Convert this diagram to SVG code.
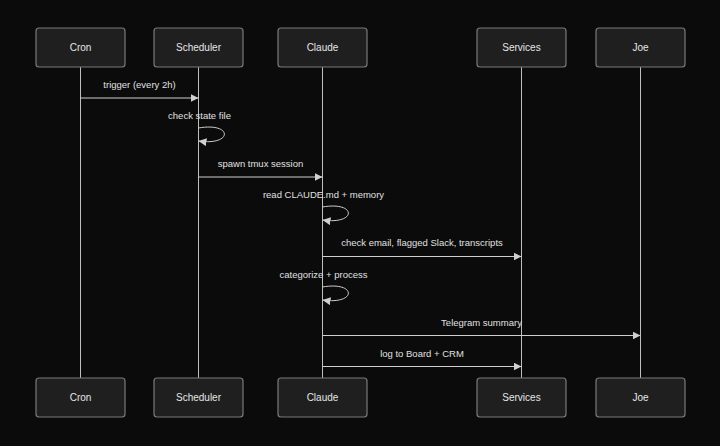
<svg xmlns="http://www.w3.org/2000/svg" width="720" height="446" viewBox="0 0 720 446">
<defs>
<marker id="ah" viewBox="0 0 10 10" refX="10" refY="5" markerWidth="8" markerHeight="8" markerUnits="userSpaceOnUse" orient="auto">
<path d="M0,0 L10,5 L0,10 z" fill="#d0d0d0"/>
</marker>
<style>
.box{fill:#1f1f1f;stroke:#7a7a7a;stroke-width:1.2}
.life{stroke:#bfbfbf;stroke-width:1}
.msg{stroke:#cfcfcf;stroke-width:1;fill:none}
.lbl{font-family:"Liberation Sans",Arial,sans-serif;font-size:9.5px;fill:#e0e0e0;text-anchor:middle}
.nl{font-family:"Liberation Sans",Arial,sans-serif;font-size:10px;fill:#e6e6e6;text-anchor:middle}
</style>
</defs>
<rect width="720" height="446" fill="#0b0b0b"/>
<g id="lifelines">
<line class="life" x1="80.5" y1="67" x2="80.5" y2="378"/>
<line class="life" x1="198.5" y1="67" x2="198.5" y2="378"/>
<line class="life" x1="322.5" y1="67" x2="322.5" y2="378"/>
<line class="life" x1="521.5" y1="67" x2="521.5" y2="378"/>
<line class="life" x1="640.5" y1="67" x2="640.5" y2="378"/>
</g>
<g id="cron">
<rect class="box" x="36" y="28" width="89" height="39" rx="3"/>
<text class="nl" x="80.5" y="51">Cron</text>
<rect class="box" x="36" y="378" width="89" height="39" rx="3"/>
<text class="nl" x="80.5" y="401">Cron</text>
</g>
<g id="scheduler">
<rect class="box" x="154" y="28" width="89" height="39" rx="3"/>
<text class="nl" x="198.5" y="51">Scheduler</text>
<rect class="box" x="154" y="378" width="89" height="39" rx="3"/>
<text class="nl" x="198.5" y="401">Scheduler</text>
</g>
<g id="claude">
<rect class="box" x="278" y="28" width="89" height="39" rx="3"/>
<text class="nl" x="322.5" y="51">Claude</text>
<rect class="box" x="278" y="378" width="89" height="39" rx="3"/>
<text class="nl" x="322.5" y="401">Claude</text>
</g>
<g id="services">
<rect class="box" x="477" y="28" width="89" height="39" rx="3"/>
<text class="nl" x="521.5" y="51">Services</text>
<rect class="box" x="477" y="378" width="89" height="39" rx="3"/>
<text class="nl" x="521.5" y="401">Services</text>
</g>
<g id="joe">
<rect class="box" x="596" y="28" width="89" height="39" rx="3"/>
<text class="nl" x="640.5" y="51">Joe</text>
<rect class="box" x="596" y="378" width="89" height="39" rx="3"/>
<text class="nl" x="640.5" y="401">Joe</text>
</g>
<g id="connectors">
<line class="msg" x1="80.5" y1="98" x2="198.5" y2="98" marker-end="url(#ah)"/>
<text class="lbl" x="139.5" y="88">trigger (every 2h)</text>
<path class="msg" d="M198.5,128 C233,122 233,146 198.5,141" marker-end="url(#ah)"/>
<text class="lbl" x="199.5" y="119">check state file</text>
<line class="msg" x1="198.5" y1="177" x2="322.5" y2="177" marker-end="url(#ah)"/>
<text class="lbl" x="260.5" y="167">spawn tmux session</text>
<path class="msg" d="M322.5,207 C357,201 357,225 322.5,220" marker-end="url(#ah)"/>
<text class="lbl" x="323.5" y="198">read CLAUDE.md + memory</text>
<line class="msg" x1="322.5" y1="256.5" x2="521.5" y2="256.5" marker-end="url(#ah)"/>
<text class="lbl" x="422" y="246">check email, flagged Slack, transcripts</text>
<path class="msg" d="M322.5,287 C357,281 357,305 322.5,300" marker-end="url(#ah)"/>
<text class="lbl" x="323.5" y="278">categorize + process</text>
<line class="msg" x1="322.5" y1="335.5" x2="640.5" y2="335.5" marker-end="url(#ah)"/>
<text class="lbl" x="481.5" y="326">Telegram summary</text>
<line class="msg" x1="322.5" y1="366.5" x2="521.5" y2="366.5" marker-end="url(#ah)"/>
<text class="lbl" x="422" y="357">log to Board + CRM</text>
</g>
</svg>
